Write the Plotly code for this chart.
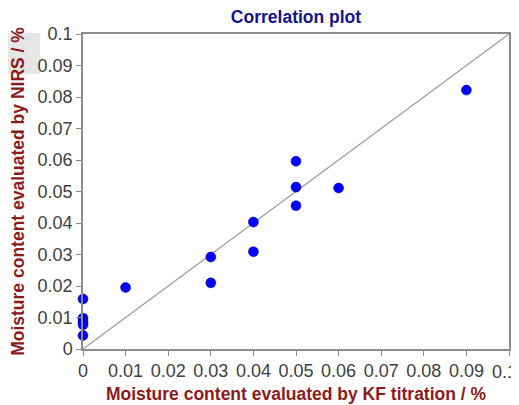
import plotly.graph_objects as go

kf_titration = [0, 0, 0, 0, 0, 0.01, 0.03, 0.03, 0.04, 0.04, 0.05, 0.05, 0.05, 0.06, 0.09]
nirs = [0.0159, 0.0098, 0.0087, 0.0077, 0.0043, 0.0195, 0.0292, 0.0210, 0.0403, 0.0309,
        0.0596, 0.0514, 0.0455, 0.0511, 0.0822]
diag = [0, 0.1]
tick_vals = [0, 0.01, 0.02, 0.03, 0.04, 0.05, 0.06, 0.07, 0.08, 0.09, 0.1]
tick_text = ["0", "0.01", "0.02", "0.03", "0.04", "0.05", "0.06", "0.07", "0.08", "0.09", "0.1"]

FONT = "Liberation Sans, Arial"
# page body has an 8px default margin, so the figure is drawn 8px in from top-left
W, H = 511, 397
L, R, T, B = 75, 10, 26, 56
PW, PH = W - L - R, H - T - B
TICKFONT = dict(family=FONT, size=18, color="#404040")

fig = go.Figure()
fig.add_trace(go.Scatter(x=diag, y=diag, mode="lines",
                         line=dict(color="#999999", width=1.2), hoverinfo="skip",
                         showlegend=False))
fig.add_trace(go.Scatter(x=kf_titration, y=nirs, mode="markers",
                         marker=dict(color="#0000FF", size=10,
                                     line=dict(color="#00008B", width=0.5)),
                         showlegend=False, cliponaxis=False))

axis_common = dict(range=[0, 0.1], showgrid=False, zeroline=False,
                   showline=True, linecolor="#8c8c8c", linewidth=1.5, mirror=True,
                   ticks="outside", ticklen=5, tickcolor="#8c8c8c", tickwidth=1,
                   automargin=False, tickmode="array", tickvals=tick_vals,
                   tickfont=TICKFONT)

# last x label would run off the page edge: draw it as an annotation nudged inside
x_text = tick_text[:-1] + [""]

fig.update_layout(
    width=W, height=H,
    margin=dict(l=L, r=R, t=T, b=B, autoexpand=False),
    paper_bgcolor="white", plot_bgcolor="white",
    title=dict(text="<b>Correlation plot</b>", x=(L + W - R) / 2 / W, xanchor="center",
               y=1 - 9 / H, yanchor="middle",
               font=dict(family=FONT, size=17.5, color="#14148c")),
    xaxis=dict(axis_common, ticktext=x_text,
               title=dict(text="<b>Moisture content evaluated by KF titration / %</b>",
                          font=dict(family=FONT, size=17.5, color="#8b1a1a"),
                          standoff=7)),
    yaxis=dict(axis_common, ticktext=tick_text,
               title=dict(text="<b>Moisture content evaluated by NIRS / %</b>",
                          font=dict(family=FONT, size=17.5, color="#8b1a1a"),
                          standoff=9)),
    annotations=[dict(x=tick_vals[-1], xref="x", y=0, yref="paper", yanchor="top",
                      xanchor="center", xshift=-5, yshift=-11, showarrow=False,
                      text=tick_text[-1], font=TICKFONT)],
    shapes=[
        dict(type="rect", xref="paper", yref="paper", layer="below",
             x0=-L / PW, x1=(32 - L) / PW, y0=(341 - 66) / PH, y1=(341 - 25) / PH,
             fillcolor="#e6e6e6", line=dict(width=0)),
        dict(type="line", xref="paper", yref="paper", layer="below",
             x0=-L / PW, x1=(19 - L) / PW, y0=(341 - 106) / PH, y1=(341 - 106) / PH,
             line=dict(color="#e0e0e0", width=1)),
    ],
)

fig.write_html("out.html")
